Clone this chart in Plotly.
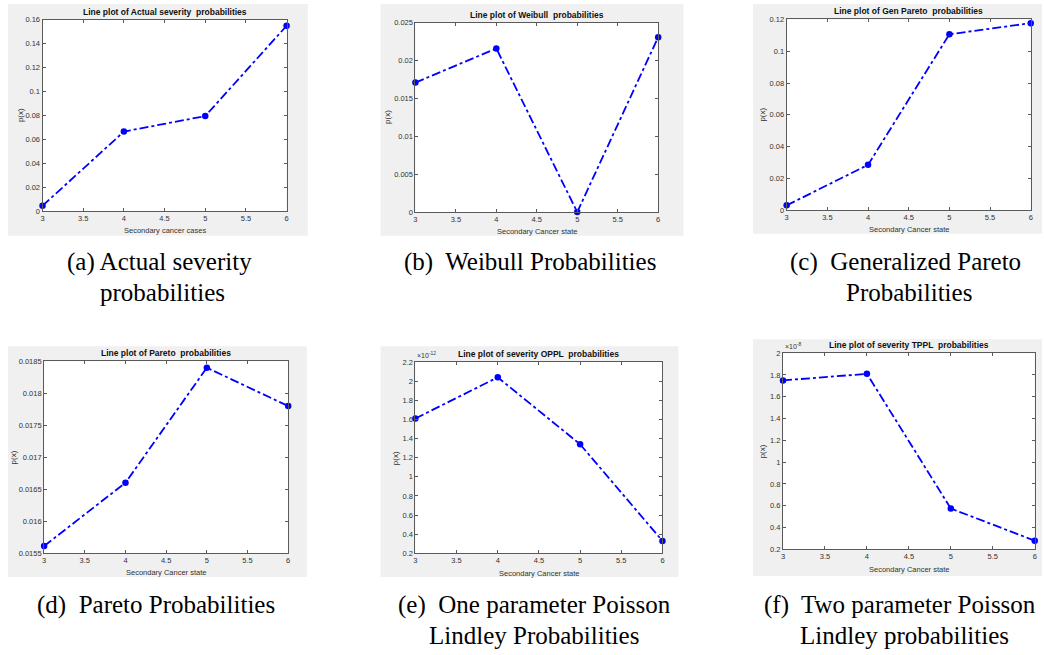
import plotly.graph_objects as go

W, H = 1044, 655

# ---------------- data ----------------
x_states = [3, 4, 5, 6]
actual_probs = [0.0045, 0.0665, 0.0795, 0.155]
weibull_probs = [0.0171, 0.0216, 0.0, 0.0231]
gen_pareto_probs = [0.003, 0.0285, 0.1107, 0.1177]
pareto_probs = [0.01561, 0.0166, 0.0184, 0.0178]
oppl_probs_e12 = [1.61, 2.04, 1.34, 0.33]     # x 10^-12
tppl_probs_e8 = [1.75, 1.81, 0.575, 0.28]     # x 10^-8

titles = [
    "Line plot of Actual severity  probabilities",
    "Line plot of Weibull  probabilities",
    "Line plot of Gen Pareto  probabilities",
    "Line plot of Pareto  probabilities",
    "Line plot of severity OPPL  probabilities",
    "Line plot of severity TPPL  probabilities",
]
xlabels = ["Secondary cancer cases"] + ["Secondary Cancer state"] * 5
ylabel = "p(x)"
exponents = [None, None, None, None, "-12", "-8"]
y_ranges = [(0, 0.16), (0, 0.025), (0, 0.12), (0.0155, 0.0185), (0.2, 2.2), (0.2, 2.0)]
y_steps = [0.02, 0.005, 0.02, 0.0005, 0.2, 0.2]
x_ticks = [3, 3.5, 4, 4.5, 5, 5.5, 6]
series = [actual_probs, weibull_probs, gen_pareto_probs, pareto_probs,
          oppl_probs_e12, tppl_probs_e8]

captions = [
    # (text, x_px, y_px, xanchor)
    ("(a) Actual severity", 63, 262, "left"),
    ("probabilities", 96, 293, "left"),
    ("(b)\u00a0 Weibull Probabilities", 530, 262, "center"),
    ("(c)\u00a0 Generalized Pareto", 907, 262, "center"),
    ("Probabilities", 910, 293, "center"),
    ("(d)\u00a0 Pareto Probabilities", 155, 609, "center"),
    ("(e)\u00a0 One parameter Poisson", 535, 609, "center"),
    ("Lindley Probabilities", 534, 640, "center"),
    ("(f)\u00a0 Two parameter Poisson", 763, 609, "left"),
    ("Lindley probabilities", 799, 640, "left"),
]

# ---------------- layout geometry (pixels) ----------------
plot_boxes = [  # L, T, R, B
    (40.7, 16, 285.7, 210),
    (415, 19, 658.7, 211),
    (787.7, 15.7, 1032.7, 209),
    (42.3, 362.3, 287.3, 556.7),
    (415, 363, 663, 557),
    (784, 354, 1036.7, 553),
]
grey_boxes = [
    (6, 0, 307, 235),
    (380, 0, 684, 235),
    (754, 0, 1044, 233),
    (6, 347, 306, 581),
    (380, 347, 679, 581),
    (754, 340, 1044, 580),
]
ylabel_offsets = [22, 28, 24, 31, 20, 21]

def px(x):
    return x / W

def py(y):
    return 1 - y / H

def fmt(v):
    return f"{round(v, 6):g}"

fig = go.Figure()
shapes = []
annotations = []
layout_axes = {}

AX_COLOR = "#5a5a5a"
TXT_COLOR = "#333333"
FONT = "Liberation Sans, Arial, sans-serif"

for g in grey_boxes:
    shapes.append(dict(type="rect", xref="paper", yref="paper",
                       x0=px(g[0]), x1=px(g[2]), y0=py(g[3]), y1=py(g[1]),
                       fillcolor="#f0f0f0", line=dict(width=0), layer="below"))

for i in range(6):
    n = "" if i == 0 else str(i + 1)
    L, T, R, B = plot_boxes[i]
    lo, hi = y_ranges[i]
    step = y_steps[i]
    nt = int(round((hi - lo) / step))
    yt = [lo + k * step for k in range(nt + 1)]

    fig.add_trace(go.Scatter(
        x=x_states, y=series[i], mode="lines+markers",
        xaxis="x" + n, yaxis="y" + n, cliponaxis=False,
        line=dict(color="#0000ff", width=1.8, dash="dashdot"),
        marker=dict(color="#0000ff", size=6.5, symbol="circle"),
        showlegend=False, hoverinfo="x+y"))

    common = dict(showline=True, linecolor=AX_COLOR, linewidth=1, mirror="ticks",
                  ticks="inside", ticklen=3, tickcolor=AX_COLOR, showgrid=False,
                  zeroline=False, tickfont=dict(family=FONT, size=7.5, color=TXT_COLOR))
    layout_axes["xaxis" + n] = dict(
        domain=[px(L), px(R)], anchor="y" + n, range=[3, 6],
        tickvals=x_ticks, ticktext=[fmt(v) for v in x_ticks], **common)
    layout_axes["yaxis" + n] = dict(
        domain=[py(B), py(T)], anchor="x" + n, range=[lo, hi],
        tickvals=yt, ticktext=[fmt(v) for v in yt], **common)

    # white plot background
    shapes.append(dict(type="rect", xref="paper", yref="paper",
                       x0=px(L), x1=px(R), y0=py(B), y1=py(T),
                       fillcolor="white", line=dict(width=0), layer="below"))

    # title
    annotations.append(dict(text="<b>" + titles[i] + "</b>", xref="paper", yref="paper",
                            x=px((L + R) / 2), y=py(T - 1), xanchor="center", yanchor="bottom",
                            showarrow=False, font=dict(family=FONT, size=8.5, color="#111111")))
    # x label
    annotations.append(dict(text=xlabels[i], xref="paper", yref="paper",
                            x=px((L + R) / 2), y=py(B + 20), xanchor="center", yanchor="middle",
                            showarrow=False, font=dict(family=FONT, size=7.5, color=TXT_COLOR)))
    # y label
    annotations.append(dict(text=ylabel, xref="paper", yref="paper",
                            x=px(L - ylabel_offsets[i]), y=py((T + B) / 2),
                            xanchor="center", yanchor="middle", textangle=-90,
                            showarrow=False, font=dict(family=FONT, size=8, color=TXT_COLOR)))
    if exponents[i]:
        annotations.append(dict(text="\u00d710<sup>" + exponents[i] + "</sup>",
                                xref="paper", yref="paper", x=px(L), y=py(T - 1),
                                xanchor="left", yanchor="bottom", showarrow=False,
                                font=dict(family=FONT, size=7, color=TXT_COLOR)))

for text, x, y, xa in captions:
    annotations.append(dict(text=text, xref="paper", yref="paper", x=px(x), y=py(y),
                            xanchor=xa, yanchor="middle", showarrow=False,
                            font=dict(family="Liberation Serif, Times New Roman, serif",
                                      size=25, color="#000000")))

fig.update_layout(
    width=W, height=H, margin=dict(l=0, r=0, t=0, b=0),
    paper_bgcolor="white", plot_bgcolor="white",
    shapes=shapes, annotations=annotations, **layout_axes)

fig.write_html("out.html", config={"displayModeBar": False},
               post_script="document.body.style.margin='0px';document.body.style.overflow='hidden';")
